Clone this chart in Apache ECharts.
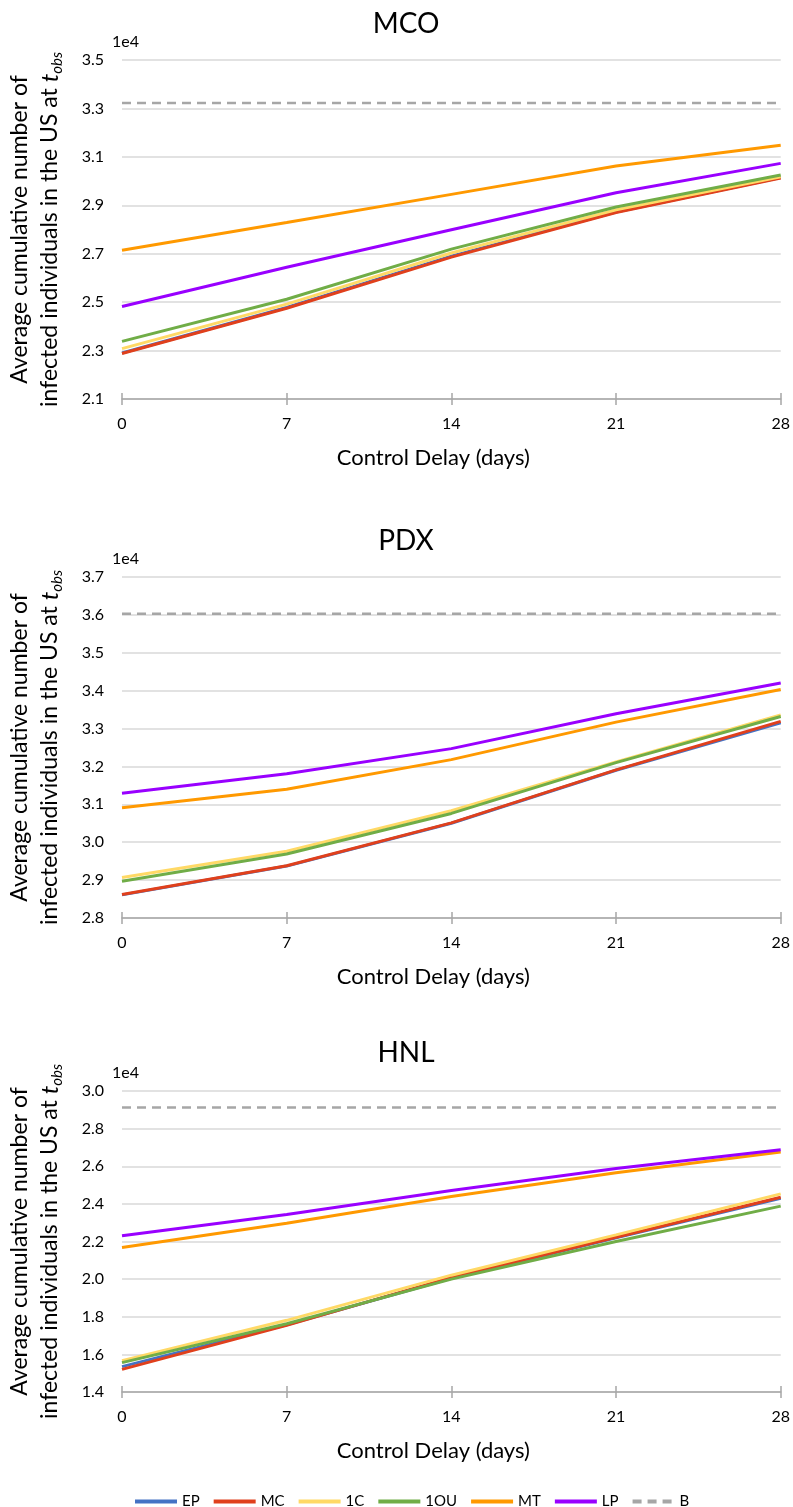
<!DOCTYPE html>
<html>
<head>
<meta charset="utf-8">
<script src="https://cdn.jsdelivr.net/npm/echarts@6/dist/echarts.min.js"></script>
<style>
    html, body { margin: 0; padding: 0; background: #ffffff; }
    #chart-container { width: 793px; height: 1507px; }
</style>
</head>
<body>
<div id="chart-container"></div>
<script>
    // x categories (control delay, days)
    const days = ['0', '7', '14', '21', '28'];
    const seriesNames = ['EP', 'MC', '1C', '1OU', 'MT', 'LP', 'B'];
    const panelTitles = ['MCO', 'PDX', 'HNL'];

    // MCO
    const mcoEP = [22900, 24780, 26900, 28720, 30150];
    const mcoMC = [22880, 24750, 26860, 28700, 30130];
    const mco1C = [23080, 24920, 27030, 28810, 30180];
    const mco1OU = [23380, 25120, 27190, 28930, 30250];
    const mcoMT = [27140, 28290, 29450, 30620, 31480];
    const mcoLP = [24820, 26440, 27990, 29520, 30730];
    const mcoB = [33220, 33220, 33220, 33220, 33220];

    // PDX
    const pdxEP = [28610, 29370, 30500, 31900, 33150];
    const pdxMC = [28620, 29380, 30510, 31910, 33190];
    const pdx1C = [29070, 29760, 30830, 32120, 33360];
    const pdx1OU = [28970, 29690, 30760, 32100, 33320];
    const pdxMT = [30910, 31400, 32180, 33170, 34030];
    const pdxLP = [31290, 31810, 32470, 33390, 34200];
    const pdxB = [36030, 36030, 36030, 36030, 36030];

    // HNL
    const hnlEP = [15350, 17570, 20050, 22200, 24300];
    const hnlMC = [15200, 17540, 20090, 22230, 24350];
    const hnl1C = [15670, 17810, 20210, 22350, 24530];
    const hnl1OU = [15560, 17630, 20000, 22000, 23880];
    const hnlMT = [21680, 22970, 24390, 25650, 26760];
    const hnlLP = [22300, 23430, 24710, 25880, 26880];
    const hnlB = [29120, 29120, 29120, 29120, 29120];

    // y axis ranges: [min, max, interval]
    const yRanges = [[21000, 35000, 2000], [28000, 37000, 1000], [14000, 30000, 2000]];

    const panels = [
        [mcoEP, mcoMC, mco1C, mco1OU, mcoMT, mcoLP, mcoB],
        [pdxEP, pdxMC, pdx1C, pdx1OU, pdxMT, pdxLP, pdxB],
        [hnlEP, hnlMC, hnl1C, hnl1OU, hnlMT, hnlLP, hnlB]
    ];

    const colors = ['#4472c4', '#e0401c', '#ffd966', '#70ad47', '#ff9900', '#9900ff', '#a6a6a6'];
    const font = 'Lato, "Liberation Sans", sans-serif';

    // plot areas for the three panels
    const grids = [
        { left: 122, right: 10, top: 60, height: 339 },
        { left: 122, right: 10, top: 577, height: 341 },
        { left: 122, right: 10, top: 1091, height: 301 }
    ];
    const titleTops = [5, 522, 1034];

    var dom = document.getElementById('chart-container');
    var myChart = echarts.init(dom, null, { renderer: 'canvas' });

    var xAxes = [], yAxes = [], series = [], titles = [], graphics = [];
    grids.forEach((g, i) => {
        titles.push({
            text: panelTitles[i],
            left: 401,
            top: titleTops[i],
            textAlign: 'center',
            textStyle: { fontFamily: font, fontSize: 28, fontWeight: 'normal', color: '#000' }
        });
        xAxes.push({
            gridIndex: i,
            type: 'category',
            position: 'bottom',
            data: days,
            boundaryGap: false,
            name: 'Control Delay (days)',
            nameLocation: 'middle',
            nameGap: 48,
            nameTextStyle: { fontFamily: font, fontSize: 22, color: '#000', padding: [0, 36, 0, 0] },
            axisLine: { lineStyle: { color: '#a6a6a6', width: 1.5 } },
            axisTick: { show: true, length: 6, lineStyle: { color: '#a6a6a6', width: 1.5 } },
            axisLabel: { margin: 17, fontFamily: font, fontSize: 16, color: '#000' },
            splitLine: { show: false }
        });
        yAxes.push({
            gridIndex: i,
            type: 'value',
            min: yRanges[i][0],
            max: yRanges[i][1],
            interval: yRanges[i][2],
            name: '{n|Average cumulative number of}\n{n|infected individuals in the US at }{t|t}{s|obs}',
            nameLocation: 'middle',
            nameRotate: 90,
            nameGap: 57,
            nameTextStyle: {
                color: '#000',
                rich: {
                    n: { fontFamily: font, fontSize: 23, lineHeight: 30, color: '#000' },
                    t: { fontFamily: font, fontSize: 24, fontStyle: 'italic', lineHeight: 30, color: '#000' },
                    s: { fontFamily: font, fontSize: 15, fontStyle: 'italic', verticalAlign: 'bottom', lineHeight: 14, color: '#000' }
                }
            },
            axisLine: { show: false },
            axisTick: { show: false },
            axisLabel: {
                margin: 18,
                fontFamily: font,
                fontSize: 16,
                color: '#000',
                formatter: v => (v / 1e4).toFixed(1)
            },
            splitLine: { lineStyle: { color: '#d9d9d9', width: 1.5 } }
        });
        graphics.push({
            type: 'text',
            left: 112,
            top: g.top - 26,
            style: { text: '1e4', fontFamily: font, fontSize: 16, fill: '#000' }
        });
        panels[i].forEach((vals, k) => {
            series.push({
                name: seriesNames[k],
                type: 'line',
                xAxisIndex: i,
                yAxisIndex: i,
                data: vals,
                symbol: 'none',
                color: colors[k],
                lineStyle: {
                    width: k === 6 ? 2.5 : 3,
                    color: colors[k],
                    type: k === 6 ? [9, 6] : 'solid'
                },
                z: 2 + k
            });
        });
    });
    // second set of x axes: only the upward half of the crossing tick marks
    grids.forEach((g, i) => {
        xAxes.push({
            gridIndex: i,
            type: 'category',
            position: 'bottom',
            offset: 0,
            data: days,
            boundaryGap: false,
            axisLine: { show: false },
            axisTick: { show: true, inside: true, length: 6, lineStyle: { color: '#a6a6a6', width: 1.5 } },
            axisLabel: { show: false },
            splitLine: { show: false }
        });
    });

    var option = {
        animation: false,
        title: titles,
        grid: grids,
        xAxis: xAxes,
        yAxis: yAxes,
        series: series,
        graphic: graphics,
        legend: {
            data: seriesNames,
            top: 1489,
            left: 128,
            itemWidth: 42,
            itemHeight: 4,
            itemGap: 12,
            itemStyle: { opacity: 0 },
            lineStyle: { width: 4 },
            textStyle: { fontFamily: font, fontSize: 15, color: '#000' }
        }
    };
    option && myChart.setOption(option);
</script>
</body>
</html>
